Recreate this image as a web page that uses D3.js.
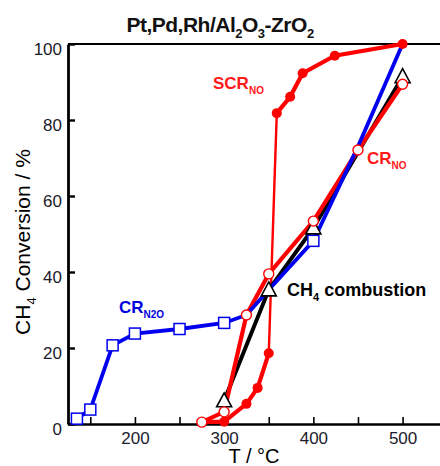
<!DOCTYPE html>
<html><head><meta charset="utf-8">
<style>
body { margin: 0; background: #fff; }
text { font-family: "Liberation Sans", Arial, sans-serif; }
</style>
</head><body>
<svg width="440" height="466"></svg>
<script src="https://d3js.org/d3.v7.min.js"></script>
<script>

// CR N2O (blue, open squares); m = marker visible
var tN2O = [135, 150, 175, 200, 250, 300, 325, 350, 400, 450, 500],
    vN2O = [1.4, 3.8, 20.7, 23.8, 25, 26.6, 28.7, 35.3, 48.2, 73, 100],
    mN2O = [1, 1, 1, 1, 1, 1, 0, 0, 1, 0, 0];

// CH4 combustion (black, open triangles)
var tCH4 = [300, 350, 400, 500],
    vCH4 = [6.1, 35.3, 51.6, 91.4];

// CR NO (red, open circles)
var tNO = [275, 300, 325, 350, 400, 450, 500],
    vNO = [0.5, 3.2, 28.7, 39.5, 53.4, 72.1, 89.4];

// SCR NO (red, filled circles)
var tSCR = [275, 300, 325, 337.5, 350, 359, 374, 388, 424, 500],
    vSCR = [0.5, 0.6, 5.3, 9.5, 18.6, 81.8, 86.1, 92.3, 96.9, 100];

var xTicks = [150, 200, 250, 300, 350, 400, 450, 500, 550],
    xLabels = [200, 300, 400, 500],
    yTicks = [0, 20, 40, 60, 80, 100];

function zip(t, v) { return t.map(function(d, i) { return {t: d, v: v[i]}; }); }

var svg = d3.select("svg");

var x = d3.scaleLinear().domain([125, 550]).range([68, 447.2]),
    y = d3.scaleLinear().domain([0, 100]).range([424, 44]);

var line = d3.line().x(function(d) { return x(d.t); }).y(function(d) { return y(d.v); });

// axes
var gx = svg.append("g").attr("transform", "translate(0," + y(0) + ")")
    .call(d3.axisBottom(x).tickValues(xTicks).tickSizeInner(-7).tickSizeOuter(0).tickPadding(8)
      .tickFormat(function(d) { return xLabels.indexOf(d) >= 0 ? d : ""; }));
gx.select(".domain").attr("stroke-width", 2.6);
gx.selectAll(".tick line").attr("stroke-width", 1.6);
gx.selectAll("text").attr("font-size", 17).attr("fill", "#1b1b2b").attr("font-family", "Liberation Sans, Arial, sans-serif");

var gy = svg.append("g").attr("transform", "translate(" + x(125) + ",0)")
    .call(d3.axisLeft(y).tickValues(yTicks).tickSizeInner(-7).tickSizeOuter(0).tickPadding(6));
gy.select(".domain").attr("stroke-width", 2.8);
gy.selectAll(".tick line").attr("stroke-width", 2.4);
gy.selectAll("text").attr("font-size", 17).attr("fill", "#1b1b2b").attr("dy", "0.62em").attr("font-family", "Liberation Sans, Arial, sans-serif");

svg.append("line").attr("x1", x(125)).attr("x2", 440).attr("y1", y(100)).attr("y2", y(100))
    .attr("stroke", "#000").attr("stroke-width", 2);

// lines
var scr = zip(tSCR, vSCR);
svg.append("path").datum(scr.slice(0, 5)).attr("d", line)
    .attr("fill", "none").attr("stroke", "#ff0000").attr("stroke-width", 4.2);
svg.append("path").datum(scr.slice(4, 6)).attr("d", line)
    .attr("fill", "none").attr("stroke", "#ff0000").attr("stroke-width", 2.4);
svg.append("path").datum(scr.slice(5)).attr("d", line)
    .attr("fill", "none").attr("stroke", "#ff0000").attr("stroke-width", 4.2);
svg.append("path").datum(zip(tCH4, vCH4)).attr("d", line)
    .attr("fill", "none").attr("stroke", "#000").attr("stroke-width", 4);
svg.append("path").datum(zip(tNO, vNO)).attr("d", line)
    .attr("fill", "none").attr("stroke", "#ff0000").attr("stroke-width", 4.2);
var n2o = zip(tN2O, vN2O);
svg.append("path").datum(n2o).attr("d", line)
    .attr("fill", "none").attr("stroke", "#0000ee").attr("stroke-width", 3.8);

// markers
svg.append("g").selectAll("rect").data(n2o.filter(function(d, i) { return mN2O[i]; }))
  .join("rect")
    .attr("x", function(d) { return x(d.t) - 5.5; }).attr("y", function(d) { return y(d.v) - 5.5; })
    .attr("width", 11).attr("height", 11)
    .attr("fill", "#fff").attr("stroke", "#0000ee").attr("stroke-width", 1.5);

svg.append("g").selectAll("path").data(zip(tCH4, vCH4))
  .join("path")
    .attr("d", function(d) {
      var cx = x(d.t), cy = y(d.v);
      return "M" + cx + "," + (cy - 8) + "L" + (cx + 7.5) + "," + (cy + 6) + "L" + (cx - 7.5) + "," + (cy + 6) + "Z";
    })
    .attr("fill", "#fff").attr("stroke", "#000").attr("stroke-width", 1.6);

svg.append("g").selectAll("circle").data(scr.slice(1))
  .join("circle")
    .attr("cx", function(d) { return x(d.t); }).attr("cy", function(d) { return y(d.v); })
    .attr("r", 5).attr("fill", "#ff0000");

svg.append("g").selectAll("circle").data(zip(tNO, vNO))
  .join("circle")
    .attr("cx", function(d) { return x(d.t); }).attr("cy", function(d) { return y(d.v); })
    .attr("r", 5).attr("fill", "#fff").attr("stroke", "#ff0000").attr("stroke-width", 1.4);

// rich text with subscripts
function rich(px, py, parts, size, sub, weight, color, anchor, rotate) {
  var t = svg.append("text").attr("x", px).attr("y", py)
      .attr("font-size", size).attr("font-weight", weight).attr("fill", color)
      .attr("text-anchor", anchor || "start");
  if (rotate) t.attr("transform", "rotate(-90," + px + "," + py + ")");
  var down = false;
  parts.forEach(function(p) {
    var s = t.append("tspan").text(p[0]);
    if (p[1] && !down) { s.attr("dy", size * 0.28).attr("font-size", sub); down = true; }
    else if (p[1]) { s.attr("font-size", sub); }
    else if (down) { s.attr("dy", -size * 0.28); down = false; }
  });
  return t;
}

rich(220, 32, [["Pt,Pd,Rh/Al"], ["2", 1], ["O"], ["3", 1], ["-ZrO"], ["2", 1]], 21, 13, "bold", "#111", "middle")
    .attr("letter-spacing", -0.5);
rich(213, 89, [["SCR"], ["NO", 1]], 17, 10, "bold", "#ff1a1a");
rich(367, 164, [["CR"], ["NO", 1]], 17, 10, "bold", "#ff1a1a");
rich(287, 296, [["CH"], ["4", 1], [" combustion"]], 18, 11, "bold", "#000");
rich(119, 313, [["CR"], ["N2O", 1]], 17, 10, "bold", "#0000dd");

rich(254, 463, [["T / °C"]], 20, 13, "normal", "#000", "middle");
rich(30, 242, [["CH"], ["4", 1], [" Conversion / %"]], 21, 13, "normal", "#000", "middle", true);

</script>
</body></html>
